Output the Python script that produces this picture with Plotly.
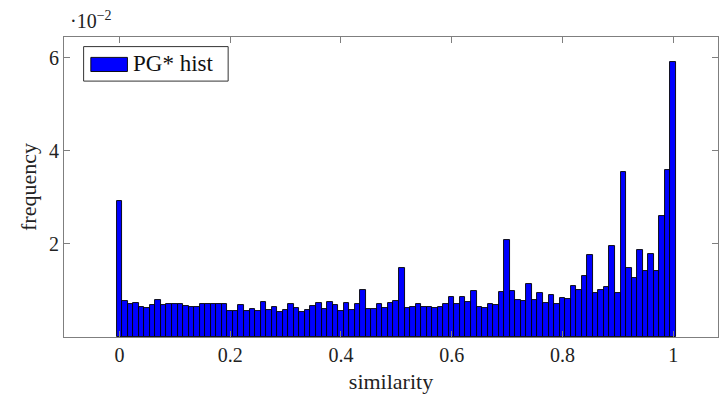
import plotly.graph_objects as go

# histogram bins (similarity), bin width 0.01, centred on 0.00 ... 1.00
bin_width = 0.01
bin_centers = [round(i * bin_width, 2) for i in range(101)]

# frequency, in units of 10^-2
freq_e2 = [
    2.93, 0.77, 0.72, 0.73, 0.65, 0.63, 0.68, 0.80, 0.68, 0.72,
    0.72, 0.70, 0.67, 0.65, 0.65, 0.70, 0.72, 0.70, 0.72, 0.72,
    0.56, 0.56, 0.68, 0.56, 0.60, 0.55, 0.76, 0.58, 0.65, 0.53,
    0.57, 0.72, 0.62, 0.53, 0.58, 0.66, 0.74, 0.60, 0.75, 0.68,
    0.55, 0.74, 0.57, 0.70, 1.01, 0.60, 0.61, 0.72, 0.63, 0.74,
    0.77, 1.49, 0.62, 0.64, 0.72, 0.64, 0.65, 0.62, 0.64, 0.71,
    0.87, 0.71, 0.87, 0.75, 0.98, 0.65, 0.62, 0.71, 0.69, 0.96,
    2.08, 0.98, 0.80, 0.77, 1.13, 0.80, 0.95, 0.74, 0.91, 0.70,
    0.83, 0.82, 1.10, 1.01, 1.32, 1.76, 0.94, 1.01, 1.07, 1.95,
    0.95, 3.54, 1.48, 1.26, 1.87, 1.41, 1.79, 1.41, 2.61, 3.58,
    5.91,
]

x_ticks = [0, 0.2, 0.4, 0.6, 0.8, 1]
x_tick_labels = ["0", "0.2", "0.4", "0.6", "0.8", "1"]
y_ticks = [2, 4, 6]
y_tick_labels = ["2", "4", "6"]

series_name = "PG* hist"
FONT = "Liberation Serif"
FRAME = "#7f7f7f"
TEXT = "#222222"

fig = go.Figure()
fig.add_trace(go.Bar(
    x=bin_centers,
    y=freq_e2,
    width=bin_width,
    marker=dict(color="#0000ff", line=dict(color="#000000", width=0.9)),
    name=series_name,
    showlegend=False,
))

fig.update_layout(
    width=719, height=394,
    margin=dict(l=64, r=1, t=37, b=57),
    paper_bgcolor="white", plot_bgcolor="white",
    bargap=0,
    font=dict(family=FONT, size=20, color=TEXT),
    xaxis=dict(
        range=[-0.1, 1.081],
        tickvals=x_ticks, ticktext=x_tick_labels,
        ticks="inside", ticklen=6, tickcolor=FRAME, tickwidth=1,
        showline=True, linecolor=FRAME, linewidth=1.2, mirror="ticks",
        showgrid=False, zeroline=False,
        title=dict(text="similarity", font=dict(size=22), standoff=8),
        tickfont=dict(size=20),
    ),
    yaxis=dict(
        range=[0, 6.45],
        tickvals=y_ticks, ticktext=y_tick_labels,
        ticks="inside", ticklen=6, tickcolor=FRAME, tickwidth=1,
        showline=True, linecolor=FRAME, linewidth=1.2, mirror="ticks",
        showgrid=False, zeroline=False,
        title=dict(text="frequency", font=dict(size=22), standoff=6),
        tickfont=dict(size=20),
    ),
)

# exponent label above the y axis
fig.add_annotation(
    xref="paper", yref="paper", x=0, y=1,
    xanchor="left", yanchor="bottom", xshift=4, yshift=3,
    text="·10<sup>−2</sup>", showarrow=False,
    font=dict(family=FONT, size=20, color=TEXT),
)

# legend box (pgfplots style with wide bar swatch)
fig.add_shape(type="rect", xref="paper", yref="paper",
              x0=0.030, x1=0.251, y0=0.853, y1=0.968,
              line=dict(color="#333333", width=1), fillcolor="white", layer="above")
fig.add_shape(type="rect", xref="paper", yref="paper",
              x0=0.041, x1=0.097, y0=0.885, y1=0.932,
              line=dict(color="#000000", width=0.9), fillcolor="#0000ff", layer="above")
fig.add_annotation(
    xref="paper", yref="paper", x=0.102, y=0.910,
    xanchor="left", yanchor="middle",
    text=series_name, showarrow=False,
    font=dict(family=FONT, size=23, color="#111111"),
)

fig.write_html("out.html")
